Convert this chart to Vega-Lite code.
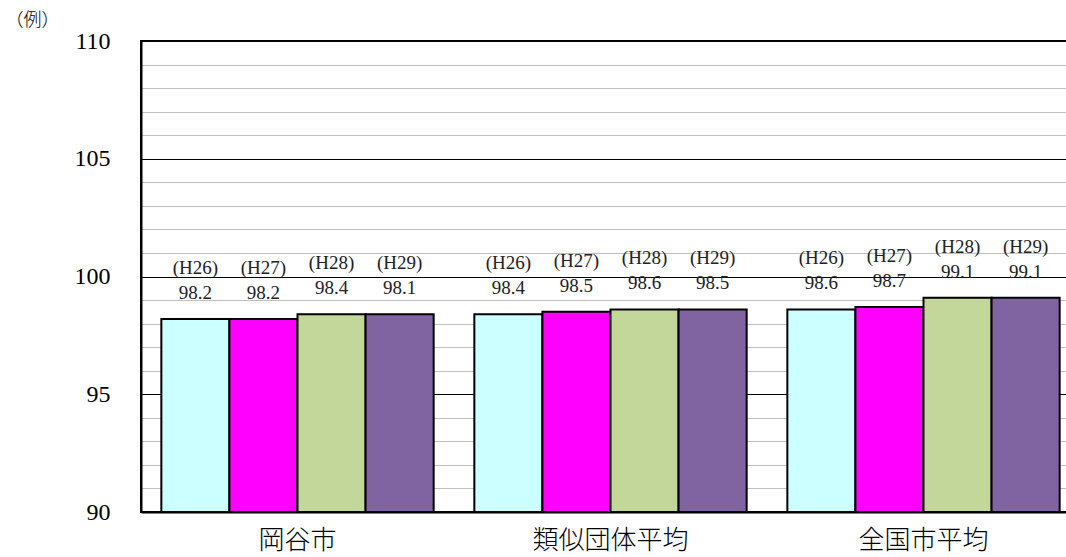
{
  "$schema": "https://vega.github.io/schema/vega-lite/v6.json",
  "width": 939,
  "height": 471,
  "autosize": "none",
  "padding": {"left": 141, "top": 41, "right": 0, "bottom": 45},
  "background": "white",
  "config": {
    "view": {"stroke": "black", "strokeWidth": 2},
    "font": "Liberation Serif"
  },
  "data": {
    "values": [
      {"group": "岡谷市", "year": "H26", "yr": "(H26)", "value": 98.2, "label": "98.2"},
      {"group": "岡谷市", "year": "H27", "yr": "(H27)", "value": 98.2, "label": "98.2"},
      {"group": "岡谷市", "year": "H28", "yr": "(H28)", "value": 98.4, "label": "98.4"},
      {"group": "岡谷市", "year": "H29", "yr": "(H29)", "value": 98.4, "label": "98.1"},
      {"group": "類似団体平均", "year": "H26", "yr": "(H26)", "value": 98.4, "label": "98.4"},
      {"group": "類似団体平均", "year": "H27", "yr": "(H27)", "value": 98.5, "label": "98.5"},
      {"group": "類似団体平均", "year": "H28", "yr": "(H28)", "value": 98.6, "label": "98.6"},
      {"group": "類似団体平均", "year": "H29", "yr": "(H29)", "value": 98.6, "label": "98.5"},
      {"group": "全国市平均", "year": "H26", "yr": "(H26)", "value": 98.6, "label": "98.6"},
      {"group": "全国市平均", "year": "H27", "yr": "(H27)", "value": 98.7, "label": "98.7"},
      {"group": "全国市平均", "year": "H28", "yr": "(H28)", "value": 99.1, "label": "99.1"},
      {"group": "全国市平均", "year": "H29", "yr": "(H29)", "value": 99.1, "label": "99.1"}
    ]
  },
  "encoding": {
    "x": {
      "field": "group",
      "type": "nominal",
      "sort": ["岡谷市", "類似団体平均", "全国市平均"],
      "scale": {"paddingInner": 0.13, "paddingOuter": 0.065},
      "axis": {
        "title": null,
        "labelAngle": 0,
        "labelFont": "Noto Sans CJK JP",
        "labelFontSize": 26,
        "labelFontWeight": 300,
        "labelColor": "black",
        "labelPadding": 15,
        "ticks": false,
        "domainColor": "black",
        "domainWidth": 2
      }
    },
    "xOffset": {"field": "year", "type": "nominal", "sort": ["H26", "H27", "H28", "H29"]},
    "y": {
      "field": "value",
      "type": "quantitative",
      "scale": {"domain": [90, 110], "zero": false, "nice": false},
      "axis": {
        "title": "（例）",
        "titleAngle": 0,
        "titleAlign": "left",
        "titleBaseline": "middle",
        "titleX": -136,
        "titleY": -21,
        "titleFont": "Noto Sans CJK JP",
        "titleFontSize": 18,
        "titleFontWeight": 300,
        "titleColor": "black",
        "values": [90, 91, 92, 93, 94, 95, 96, 97, 98, 99, 100, 101, 102, 103, 104, 105, 106, 107, 108, 109, 110],
        "labelExpr": "datum.value % 5 === 0 ? datum.label : ''",
        "labelFont": "Liberation Serif",
        "labelFontSize": 24,
        "labelColor": "black",
        "labelPadding": 31,
        "ticks": false,
        "domainColor": "black",
        "domainWidth": 2,
        "grid": true,
        "gridColor": {"condition": {"test": "datum.value % 5 === 0", "value": "black"}, "value": "#bfbfbf"},
        "gridOpacity": 1,
        "gridWidth": 1
      }
    }
  },
  "layer": [
    {
      "mark": {"type": "bar", "stroke": "black", "strokeWidth": 2, "clip": true},
      "encoding": {
        "y2": {"datum": 90},
        "color": {
          "field": "year",
          "type": "nominal",
          "scale": {"domain": ["H26", "H27", "H28", "H29"], "range": ["#CCFFFF", "#FF00FF", "#C4D79B", "#8064A2"]},
          "legend": null
        }
      }
    },
    {
      "mark": {"type": "text", "dy": -51, "baseline": "middle", "fontSize": 19, "font": "Liberation Serif", "color": "#222222"},
      "encoding": {"text": {"field": "yr"}}
    },
    {
      "mark": {"type": "text", "dy": -26, "baseline": "middle", "fontSize": 19, "font": "Liberation Serif", "color": "#222222"},
      "encoding": {"text": {"field": "label"}}
    }
  ]
}
